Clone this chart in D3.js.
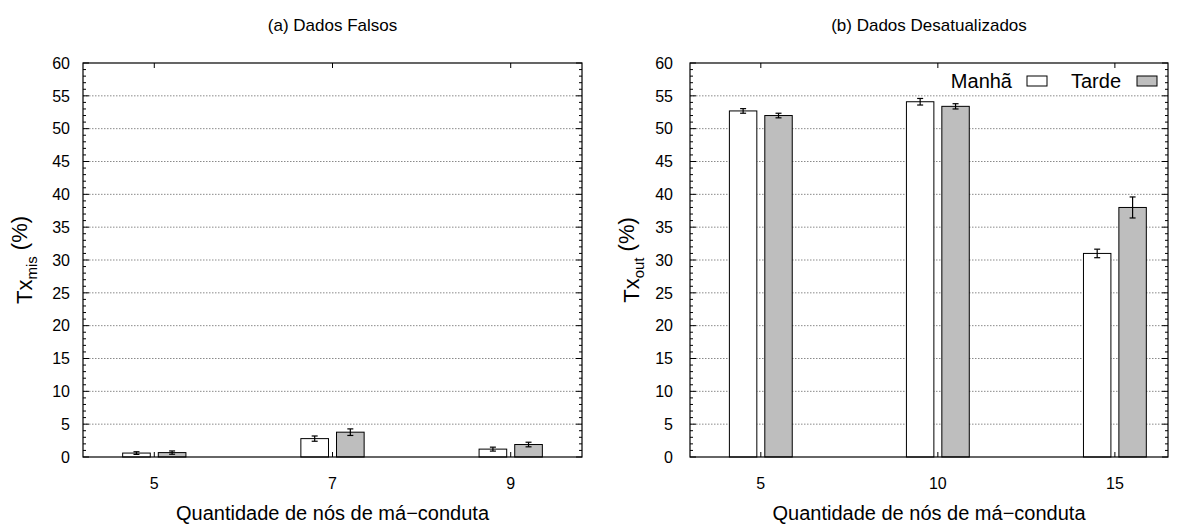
<!DOCTYPE html>
<html>
<head>
<meta charset="utf-8">
<script src="https://cdn.jsdelivr.net/npm/d3@7"></script>
<style>
  body { margin: 0; background: #fff; }
  svg { font-family: "Liberation Sans", Arial, sans-serif; }
</style>
</head>
<body>
<div id="chart"></div>
<script>
const seriesNames = ["Manhã", "Tarde"]
const seriesColors = ["#ffffff", "#bebebe"]

const catsA = ["5", "7", "9"]
const manhaA = [0.6, 2.8, 1.2]
const manhaErrA = [0.2, 0.4, 0.3]
const tardeA = [0.67, 3.78, 1.9]
const tardeErrA = [0.25, 0.5, 0.35]

const catsB = ["5", "10", "15"]
const manhaB = [52.7, 54.1, 31.0]
const manhaErrB = [0.35, 0.5, 0.65]
const tardeB = [52.0, 53.4, 38.0]
const tardeErrB = [0.35, 0.4, 1.6]

const yMajor = [0, 5, 10, 15, 20, 25, 30, 35, 40, 45, 50, 55, 60]

const width = 1178
const height = 529

const svg = d3.select("#chart")
  .append("svg")
  .attr("width", width)
  .attr("height", height)

function panel(opts) {
  const { left, right, xDomain, cats, title, sub, series, legend, labelX } = opts
  const top = 63
  const bottom = 457

  const x = d3.scaleLinear().domain(xDomain).range([left, right])
  const y = d3.scaleLinear().domain([0, 60]).range([bottom, top])

  const g = svg.append("g")

  // grid
  g.selectAll("line.grid")
    .data(yMajor.filter(v => v > 0 && v < 60))
    .join("line")
    .attr("x1", left).attr("x2", right)
    .attr("y1", d => y(d)).attr("y2", d => y(d))
    .attr("stroke", "#8a8a8a")
    .attr("stroke-width", 1)
    .attr("stroke-dasharray", "1.5,1.5")

  // bars
  const offsets = [-0.1, 0.1]
  const bw = 0.155
  series.forEach((s, si) => {
    const bars = cats.map((c, i) => ({ i, v: s.values[i], e: s.errs[i] }))
    g.selectAll(null)
      .data(bars)
      .join("rect")
      .attr("x", d => x(d.i + offsets[si] - bw / 2))
      .attr("width", d => x(d.i + bw) - x(d.i))
      .attr("y", d => y(d.v))
      .attr("height", d => y(0) - y(d.v))
      .attr("fill", seriesColors[si])
      .attr("stroke", "#000")
      .attr("stroke-width", 1)

    const eb = g.selectAll(null)
      .data(bars)
      .join("g")
      .attr("stroke", "#000")
      .attr("stroke-width", 1.2)
    eb.append("line")
      .attr("x1", d => x(d.i + offsets[si])).attr("x2", d => x(d.i + offsets[si]))
      .attr("y1", d => y(d.v - d.e)).attr("y2", d => y(d.v + d.e))
    eb.append("line")
      .attr("x1", d => x(d.i + offsets[si]) - 3).attr("x2", d => x(d.i + offsets[si]) + 3)
      .attr("y1", d => y(d.v + d.e)).attr("y2", d => y(d.v + d.e))
    eb.append("line")
      .attr("x1", d => x(d.i + offsets[si]) - 3).attr("x2", d => x(d.i + offsets[si]) + 3)
      .attr("y1", d => y(d.v - d.e)).attr("y2", d => y(d.v - d.e))
  })

  // y ticks, minor every 1 and major every 5, both sides
  const minor = d3.range(0, 61)
  g.selectAll(null)
    .data(minor)
    .join("line")
    .attr("x1", left).attr("x2", d => left + (d % 5 === 0 ? 6 : 3))
    .attr("y1", d => y(d)).attr("y2", d => y(d))
    .attr("stroke", "#000")
  g.selectAll(null)
    .data(minor)
    .join("line")
    .attr("x1", right).attr("x2", d => right - (d % 5 === 0 ? 6 : 3))
    .attr("y1", d => y(d)).attr("y2", d => y(d))
    .attr("stroke", "#000")

  // x ticks bottom and top
  g.selectAll(null)
    .data(cats.map((c, i) => i))
    .join("line")
    .attr("x1", d => x(d)).attr("x2", d => x(d))
    .attr("y1", bottom).attr("y2", bottom - 5)
    .attr("stroke", "#000")
  g.selectAll(null)
    .data(cats.map((c, i) => i))
    .join("line")
    .attr("x1", d => x(d)).attr("x2", d => x(d))
    .attr("y1", top).attr("y2", top + 5)
    .attr("stroke", "#000")

  // frame
  g.append("rect")
    .attr("x", left).attr("y", top)
    .attr("width", right - left).attr("height", bottom - top)
    .attr("fill", "none")
    .attr("stroke", "#000")
    .attr("stroke-width", 1.2)

  // tick labels
  g.selectAll(null)
    .data(yMajor)
    .join("text")
    .attr("x", labelX)
    .attr("y", d => y(d))
    .attr("dy", "0.36em")
    .attr("text-anchor", "end")
    .attr("font-size", "16px")
    .attr("fill", "#000")
    .text(d => d)

  g.selectAll(null)
    .data(cats)
    .join("text")
    .attr("x", (d, i) => x(i))
    .attr("y", 489)
    .attr("text-anchor", "middle")
    .attr("font-size", "16px")
    .text(d => d)

  const cx = (left + right) / 2

  g.append("text")
    .attr("x", cx).attr("y", 31)
    .attr("text-anchor", "middle")
    .attr("font-size", "17px")
    .text(title)

  g.append("text")
    .attr("x", cx).attr("y", 520)
    .attr("text-anchor", "middle")
    .attr("font-size", "20px")
    .text("Quantidade de nós de má\u2212conduta")

  const yl = g.append("text")
    .attr("transform", `translate(${left - 51},${(top + bottom) / 2}) rotate(-90)`)
    .attr("text-anchor", "middle")
    .attr("font-size", "22px")
  yl.append("tspan").text("Tx")
  yl.append("tspan").attr("font-size", "15px").attr("dy", "0.3em").text(sub)
  yl.append("tspan").attr("dy", "-0.45em").text(" (%)")

  if (legend) {
    const items = [
      { name: seriesNames[0], tx: 1012, bx: 1027, color: seriesColors[0] },
      { name: seriesNames[1], tx: 1121, bx: 1137, color: seriesColors[1] }
    ]
    items.forEach(it => {
      g.append("text")
        .attr("x", it.tx).attr("y", 88)
        .attr("text-anchor", "end")
        .attr("font-size", "20px")
        .text(it.name)
      g.append("rect")
        .attr("x", it.bx).attr("y", 76)
        .attr("width", 20).attr("height", 10)
        .attr("fill", it.color)
        .attr("stroke", "#000")
    })
  }
}

panel({
  left: 83, right: 582, xDomain: [-0.4, 2.4], cats: catsA,
  title: "(a) Dados Falsos", sub: "mis", labelX: 70, legend: false,
  series: [{ values: manhaA, errs: manhaErrA }, { values: tardeA, errs: tardeErrA }]
})

panel({
  left: 690, right: 1168, xDomain: [-0.4, 2.3], cats: catsB,
  title: "(b) Dados Desatualizados", sub: "out", labelX: 673, legend: true,
  series: [{ values: manhaB, errs: manhaErrB }, { values: tardeB, errs: tardeErrB }]
})
</script>
</body>
</html>
